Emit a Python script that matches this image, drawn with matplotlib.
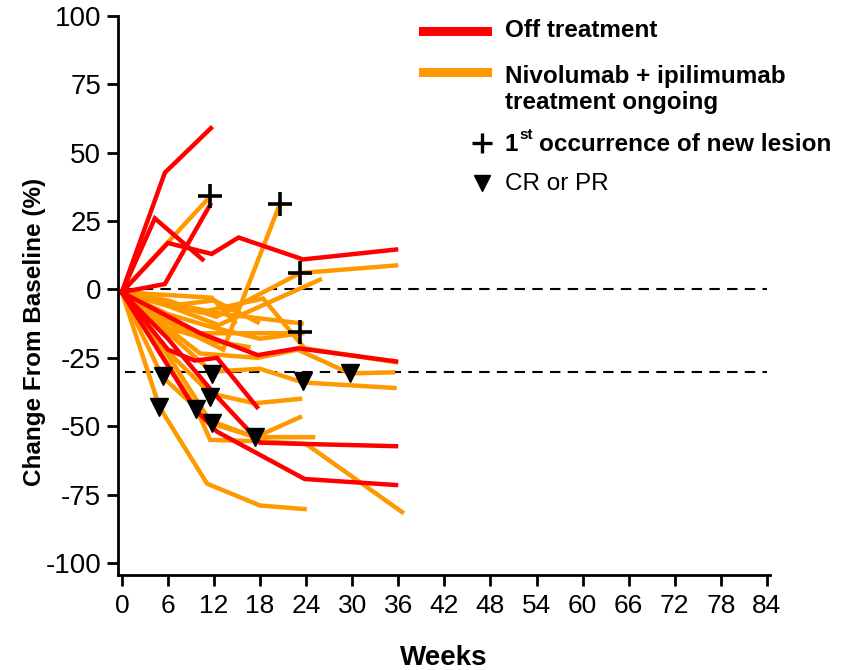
import numpy as np
import matplotlib.pyplot as plt
from matplotlib.lines import Line2D

plt.rcParams['font.family'] = ['Liberation Sans', 'DejaVu Sans']
plt.rcParams['axes.unicode_minus'] = False

# patients off treatment (red)
off_weeks = [
    [0, 5.6, 11.6],
    [0, 4.3, 10.5],
    [0, 5.6, 11.5],
    [0, 6, 11.7, 15.2, 23.6, 35.7],
    [0, 6, 9.5, 12.4, 17.6],
    [0, 9.6, 12.4, 23.8, 35.7],
    [0, 10.2, 17.7, 23, 35.7],
    [0, 6, 12, 18, 24, 35.7],
]
off_values = [
    [-1, 42.7, 59],
    [-1, 26, 11],
    [-1, 2, 31],
    [-1, 17, 13, 19, 11, 14.6],
    [-1, -22, -26, -25, -43],
    [-1, -44, -52, -69.3, -71.5],
    [-1, -16, -24, -21.5, -26.3],
    [-1, -18, -38, -56, -56.5, -57.3],
]

# patients with treatment ongoing (orange)
on_weeks = [
    [0, 11.5],
    [0, 6, 13.2, 20.6],
    [0, 6, 12.3, 23.2, 35.7],
    [0, 6, 12.6, 25.8],
    [0, 6, 10.2, 23],
    [0, 6, 13.3, 23.4],
    [0, 10.2, 18.4, 23.8, 35.7],
    [0, 10.2, 17.7, 22.9, 29.7, 35.3],
    [0, 11.7, 18, 23.6, 35.5],
    [0, 5, 11.5, 17.3, 23.2],
    [0, 6, 11.7, 17.4, 23.2],
    [0, 5.3, 11.5, 17.4, 24.9],
    [0, 9.6, 11.5, 18, 24, 36.5],
    [0, 4.9, 11.1, 18, 23.8],
    [0, 11.7, 14.7],
    [0, 6, 12, 17.7],
    [0, 6, 12, 18, 23.5],
    [0, 6, 12, 16.5],
]
on_values = [
    [-1, 34],
    [-1, -12, -22, 31.4],
    [-1, -4, -10, 6, 8.8],
    [-1, -6, -13, 3.6],
    [-1, -11, -16, -16],
    [-1, -5, -9, -12.4],
    [-1, -8.4, -3.3, -21.5, -26.6],
    [-1, -23.4, -25, -22, -30.7, -30.3],
    [-1, -30, -29, -34, -36],
    [-1, -20, -38, -41.6, -40],
    [-1, -24, -49, -54, -46.7],
    [-1, -32, -48, -54, -54],
    [-1, -43, -55, -55.5, -56.5, -81.4],
    [-1, -43, -71, -79, -80.3],
    [-1, -3, -12],
    [-1, -6, -4, -12],
    [-1, -9, -14, -18, -16],
    [-1, -14, -19, -21],
]

# first occurrence of new lesion
lesion_weeks = [11.5, 20.6, 23.2, 23.2]
lesion_values = [34.3, 31.4, 6.2, -15.7]

# CR or PR
resp_weeks = [5.3, 4.9, 9.6, 11.7, 11.5, 11.7, 17.4, 23.6, 29.7]
resp_values = [-31.8, -43, -43.8, -31, -39.4, -48.9, -54, -33.6, -30.7]

red = '#ff0000'
orange = '#ff9900'

fig = plt.figure(figsize=(8.44, 6.70), dpi=100)
ax = fig.add_axes([0.1398, 0.1418, 0.7725, 0.8343])

for yref in [0, -30]:
    ax.axhline(yref, xmin=0.01, xmax=0.995, color='black', ls=(0, (5, 3.5)), lw=1.5, zorder=1)

for w, v in zip(on_weeks, on_values):
    ax.plot(w, v, color=orange, lw=3.2, zorder=2, solid_joinstyle='miter')
for w, v in zip(off_weeks, off_values):
    ax.plot(w, v, color=red, lw=3.2, zorder=2, solid_joinstyle='miter')

ax.plot(lesion_weeks, lesion_values, ls='none', marker='+', ms=17, mew=2.6,
        color='black', zorder=4)
ax.plot(resp_weeks, resp_values, ls='none', marker='v', ms=12.5, color='black', zorder=4)

ax.set_xlim(-0.5, 84.4)
ax.set_ylim(-104.4, 100)
ax.set_xticks(np.arange(0, 85, 6))
ax.set_yticks(np.arange(-100, 101, 25))
for s in ['top', 'right']:
    ax.spines[s].set_visible(False)
for s in ['left', 'bottom']:
    ax.spines[s].set_linewidth(2)
ax.tick_params(width=2, length=8)
ax.tick_params(axis='y', labelsize=20, pad=4)
ax.tick_params(axis='x', labelsize=19, pad=6)

ax.set_ylabel('Change From Baseline (%)', fontsize=17.5, fontweight='bold')
ax.yaxis.set_label_coords(-0.11, 0.435)
ax.set_xlabel('Weeks', fontsize=20, fontweight='bold', labelpad=19)

# legend drawn by hand in figure coordinates
fig.add_artist(Line2D([0.501, 0.577], [0.954, 0.954], color=red, lw=6.5,
                      transform=fig.transFigure))
fig.add_artist(Line2D([0.501, 0.577], [0.893, 0.893], color=orange, lw=6.5,
                      transform=fig.transFigure))
fig.text(0.598, 0.954, 'Off treatment', fontsize=17.5, fontweight='bold', va='center')
fig.text(0.598, 0.866, 'Nivolumab + ipilimumab\ntreatment ongoing', fontsize=17.5,
         fontweight='bold', va='center', linespacing=1.15)
fig.add_artist(Line2D([0.571], [0.786], marker='+', ms=14, mew=2.4, color='black',
                      transform=fig.transFigure))
fig.text(0.598, 0.784, '1', fontsize=17.5, fontweight='bold', va='center')
fig.text(0.615, 0.798, 'st', fontsize=11, fontweight='bold', va='center')
fig.text(0.639, 0.784, 'occurrence of new lesion', fontsize=17.5, fontweight='bold', va='center')
fig.add_artist(Line2D([0.571], [0.727], marker='v', ms=11, color='black',
                      transform=fig.transFigure))
fig.text(0.598, 0.725, 'CR or PR', fontsize=17.5, va='center')

fig.savefig('out.png', dpi=100)
